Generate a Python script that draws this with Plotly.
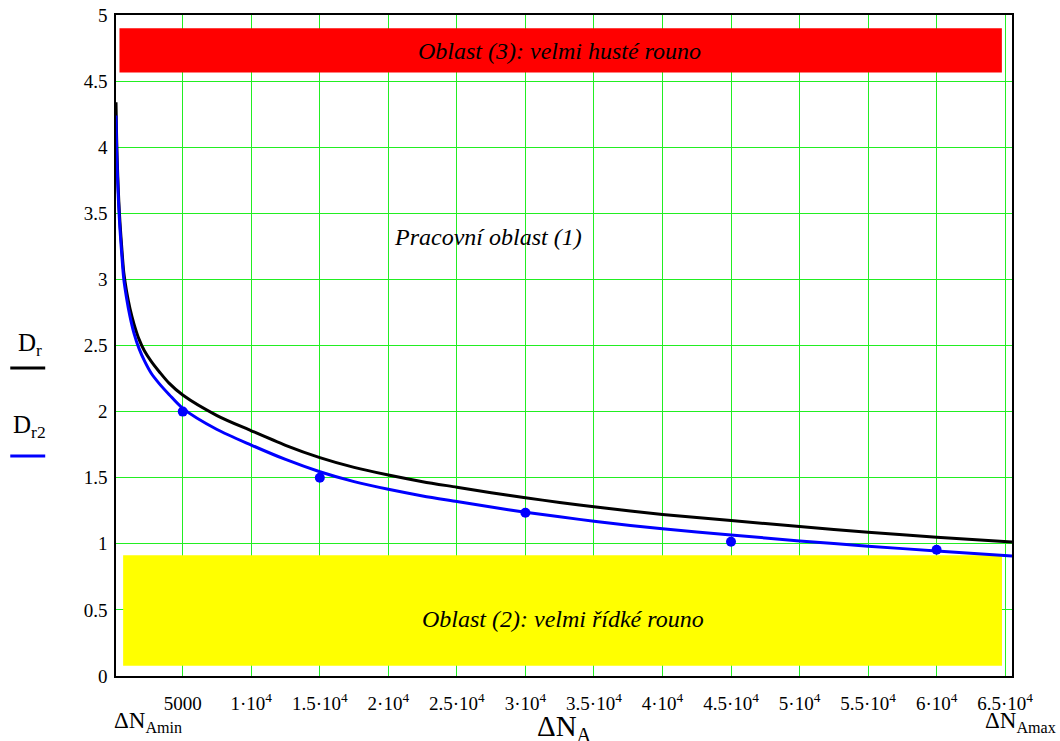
import plotly.graph_objects as go

# ---- data ----
dn = [130, 160, 200, 260, 330, 420, 550, 700, 900, 1150, 1450, 1800, 2200, 2700, 3300, 4000,
      5000, 7500, 10000, 12500, 15000, 17500, 20000, 22500, 25000, 27500, 30000, 32500, 35000,
      40000, 45000, 50000, 55000, 60000, 65500]
d_r = [4.34, 4.15, 3.97, 3.78, 3.60, 3.43, 3.24, 3.05, 2.91, 2.78, 2.66, 2.55, 2.46, 2.38, 2.30, 2.215,
       2.125, 1.97, 1.855, 1.745, 1.652, 1.578, 1.52, 1.47, 1.428, 1.386, 1.348, 1.313, 1.28,
       1.222, 1.176, 1.13, 1.088, 1.05, 1.013]
d_r2 = [4.24, 4.07, 3.90, 3.72, 3.55, 3.38, 3.19, 3.00, 2.86, 2.72, 2.59, 2.48, 2.385, 2.29, 2.21, 2.13,
        2.025, 1.865, 1.747, 1.638, 1.545, 1.47, 1.412, 1.362, 1.32, 1.278, 1.239, 1.204, 1.171,
        1.113, 1.067, 1.022, 0.982, 0.946, 0.907]

meas_x = [5000, 15000, 30000, 45000, 60000]
meas_y = [2.00, 1.50, 1.235, 1.015, 0.955]

x_ticks = [5000, 10000, 15000, 20000, 25000, 30000, 35000, 40000, 45000, 50000, 55000, 60000, 65000]
x_ticktext = ["5000", "1·10<sup>4</sup>", "1.5·10<sup>4</sup>", "2·10<sup>4</sup>",
              "2.5·10<sup>4</sup>", "3·10<sup>4</sup>", "3.5·10<sup>4</sup>", "4·10<sup>4</sup>",
              "4.5·10<sup>4</sup>", "5·10<sup>4</sup>", "5.5·10<sup>4</sup>", "6·10<sup>4</sup>",
              "6.5·10<sup>4</sup>"]
y_ticks = [0, 0.5, 1, 1.5, 2, 2.5, 3, 3.5, 4, 4.5, 5]
y_ticktext = ["0", "0.5", "1", "1.5", "2", "2.5", "3", "3.5", "4", "4.5", "5"]

# regions (x0, x1, y0, y1)
region_dense = [383, 64760, 4.565, 4.90]
region_sparse = [650, 64770, 0.078, 0.913]

FONT = "Liberation Serif"
GRID = "#22ee22"

fig = go.Figure()
fig.add_trace(go.Scatter(x=dn, y=d_r, mode="lines", line=dict(color="black", width=3, shape="spline", smoothing=0.8),
                         name="Dr"))
fig.add_trace(go.Scatter(x=dn, y=d_r2, mode="lines", line=dict(color="#0000ff", width=3, shape="spline", smoothing=0.8),
                         name="Dr2"))
fig.add_trace(go.Scatter(x=meas_x, y=meas_y, mode="markers", marker=dict(color="#0000ff", size=10),
                         name="meas"))

fig.add_shape(type="rect", xref="x", yref="y", x0=region_dense[0], x1=region_dense[1],
              y0=region_dense[2], y1=region_dense[3], fillcolor="#ff0000", line_width=0, layer="between")
fig.add_shape(type="rect", xref="x", yref="y", x0=region_sparse[0], x1=region_sparse[1],
              y0=region_sparse[2], y1=region_sparse[3], fillcolor="#ffff00", line_width=0, layer="between")

fig.add_annotation(x=32500, y=4.73, xref="x", yref="y", text="<i>Oblast (3): velmi husté rouno</i>",
                   showarrow=False, font=dict(family=FONT, size=24, color="black"))
fig.add_annotation(x=27260, y=3.32, xref="x", yref="y", text="<i>Pracovní oblast (1)</i>",
                   showarrow=False, font=dict(family=FONT, size=24, color="black"))
fig.add_annotation(x=32740, y=0.43, xref="x", yref="y", text="<i>Oblast (2): velmi řídké rouno</i>",
                   showarrow=False, font=dict(family=FONT, size=24, color="black"))

# left legend-like labels
fig.add_annotation(x=-0.112, y=0.502, xref="paper", yref="paper", xanchor="left", yanchor="middle",
                   text="D<sub>r</sub>", showarrow=False, font=dict(family=FONT, size=25, color="black"))
fig.add_shape(type="line", xref="paper", yref="paper", x0=-0.118, x1=-0.079, y0=0.466, y1=0.466,
              line=dict(color="black", width=3))
fig.add_annotation(x=-0.117, y=0.377, xref="paper", yref="paper", xanchor="left", yanchor="middle",
                   text="D<sub>r2</sub>", showarrow=False, font=dict(family=FONT, size=25, color="black"))
fig.add_shape(type="line", xref="paper", yref="paper", x0=-0.118, x1=-0.079, y0=0.333, y1=0.333,
              line=dict(color="#0000ff", width=3))

# x-axis labels
fig.add_annotation(x=-0.004, y=-0.07, xref="paper", yref="paper", xanchor="left", yanchor="middle",
                   text="ΔN<sub>Amin</sub>", showarrow=False, font=dict(family=FONT, size=23, color="black"))
fig.add_annotation(x=0.501, y=-0.078, xref="paper", yref="paper", xanchor="center", yanchor="middle",
                   text="ΔN<sub>A</sub>", showarrow=False, font=dict(family=FONT, size=29, color="black"))
fig.add_annotation(x=1.051, y=-0.07, xref="paper", yref="paper", xanchor="right", yanchor="middle",
                   text="ΔN<sub>Amax</sub>", showarrow=False, font=dict(family=FONT, size=23, color="black"))

fig.update_layout(
    width=1060, height=741,
    margin=dict(l=116, r=48, t=15, b=65),
    paper_bgcolor="white", plot_bgcolor="white",
    showlegend=False,
    font=dict(family=FONT, size=19, color="black"),
)
fig.update_xaxes(range=[130, 65500], tickvals=x_ticks, ticktext=x_ticktext, showgrid=True,
                 gridcolor=GRID, gridwidth=1, showline=True, linecolor="black", linewidth=1.5,
                 mirror=True, ticks="", zeroline=False, ticklabelstandoff=9,
                 tickfont=dict(family=FONT, size=19, color="black"))
fig.update_yaxes(range=[0, 5], tickvals=y_ticks, ticktext=y_ticktext, showgrid=True,
                 gridcolor=GRID, gridwidth=1, showline=True, linecolor="black", linewidth=1.5,
                 mirror=True, ticks="", zeroline=False, ticklabelstandoff=3, automargin=False,
                 tickfont=dict(family=FONT, size=19, color="black"))

post = (
    "document.body.style.margin='0';document.body.style.overflow='hidden';"
    "var gd=document.getElementById('{plot_id}');"
    "Plotly.relayout(gd,{'xaxis.gridcolor':'" + GRID + "','yaxis.gridcolor':'" + GRID + "',"
    "'xaxis.range':[130,65500],'yaxis.range':[0,5]});"
)
fig.write_html("out.html", config={"displayModeBar": False}, post_script=post)
